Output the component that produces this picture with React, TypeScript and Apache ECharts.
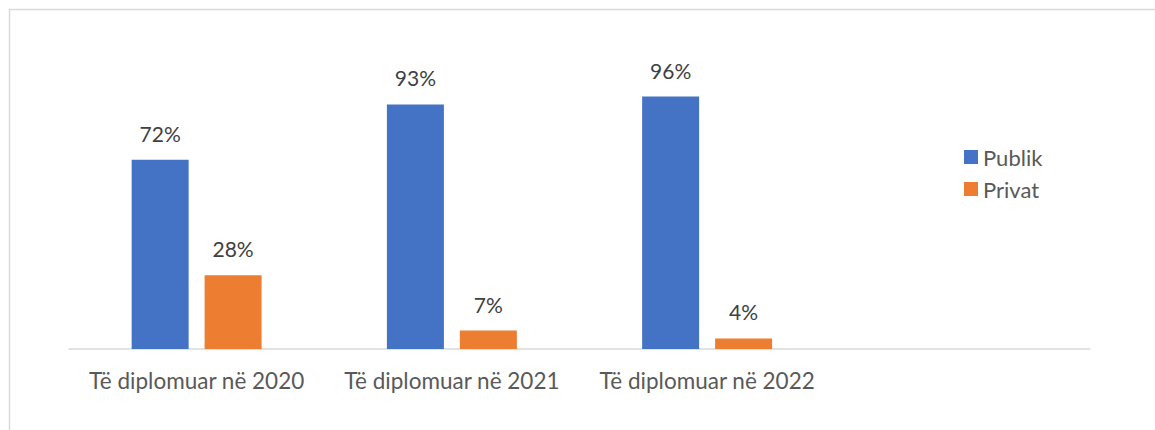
import React, { useEffect, useRef } from "react";
import * as echarts from "echarts";

const categories = ["Të diplomuar në 2020", "Të diplomuar në 2021", "Të diplomuar në 2022", ""];
const publik = [72, 93, 96, null];
const privat = [28, 7, 4, null];
const seriesNames = ["Publik", "Privat"];

export default function App() {
  const ref = useRef<HTMLDivElement>(null);
  useEffect(() => {
    if (!ref.current) return;
    const chart = echarts.init(ref.current, null, { renderer: "svg" });
    const font = "Lato, 'Open Sans', sans-serif";
    const label = {
      show: true,
      position: "top" as const,
      distance: 16,
      color: "#404040",
      fontSize: 21,
      fontFamily: font,
      formatter: (p: any) => (p.value == null ? "" : p.value + "%"),
    };
    chart.setOption({
      animation: false,
      backgroundColor: "#ffffff",
      graphic: [
        {
          type: "rect",
          shape: { x: 9.5, y: 9.5, width: 1300, height: 600 },
          style: { fill: "none", stroke: "#d9d9d9", lineWidth: 1.5 },
          silent: true,
        },
      ],
      legend: {
        orient: "vertical",
        left: 959,
        top: 141,
        itemWidth: 14,
        itemHeight: 14,
        itemGap: 10,
        icon: "rect",
        textStyle: { color: "#595959", fontSize: 22, fontFamily: font },
        data: seriesNames,
      },
      grid: { left: 69, right: 65, top: 86, bottom: 81, containLabel: false },
      xAxis: {
        type: "category",
        data: categories,
        axisLine: { lineStyle: { color: "#d9d9d9", width: 1.5 } },
        axisTick: { show: false },
        axisLabel: {
          color: "#595959",
          fontSize: 22.5,
          fontFamily: font,
          margin: 20,
          interval: 0,
          hideOverlap: false,
        },
      },
      yAxis: {
        type: "value",
        min: 0,
        max: 100,
        show: false,
        splitLine: { show: false },
      },
      series: [
        {
          name: seriesNames[0],
          type: "bar",
          data: publik,
          barWidth: 57,
          barGap: "28%",
          itemStyle: { color: "#4472C4" },
          label,
        },
        {
          name: seriesNames[1],
          type: "bar",
          data: privat,
          barWidth: 57,
          itemStyle: { color: "#ED7D31" },
          label,
        },
      ],
    });
    return () => chart.dispose();
  }, []);
  return (
    <div
      ref={ref}
      style={{ position: "fixed", left: 0, top: 0, width: 1155, height: 430 }}
    />
  );
}
